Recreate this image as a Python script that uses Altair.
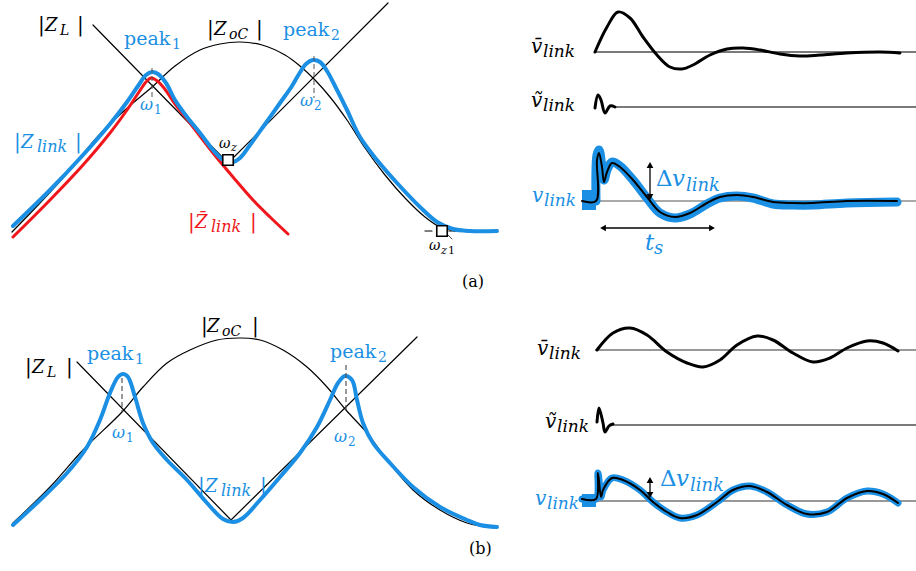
import altair as alt
import pandas as pd

W, H = 916, 571
BLUE = "#1a8fe3"
RED = "#f0171c"
BLACK = "#000000"
GRAY = "#7a7a7a"
FONT = "DejaVu Serif"

# ---------------- panel (a), frequency domain ----------------
ASYM_A_X = [93, 228, 388]
ASYM_A_Y = [25, 163, 3]
ZOC_A_X = [12, 40, 70, 100, 125, 152, 175, 200, 220, 240, 262, 285, 300, 315, 330, 347, 365, 385, 405, 425, 440, 455]
ZOC_A_Y = [232, 203, 170, 134, 110, 87, 66, 50, 44, 42, 45, 55, 66, 80, 97, 120, 148, 175, 198, 217, 227, 231]
ZLINK_A_X = [13, 50, 83, 110, 127, 138, 146, 152, 158, 166, 175, 187, 200, 213, 223, 230, 240, 250, 263, 280, 292, 299, 306, 313, 320, 327, 336, 347, 360, 377, 397, 420, 437, 453, 470, 497]
ZLINK_A_Y = [226, 190, 155, 124, 102, 86, 75, 72, 74, 83, 100, 117, 133, 150, 160, 163, 158, 145, 127, 103, 86, 74, 64, 60, 62, 71, 88, 110, 137, 160, 183, 207, 222, 229, 231, 231]
ZBAR_A_X = [13, 50, 83, 110, 127, 139, 146, 151, 156, 164, 175, 193, 213, 233, 253, 270, 288]
ZBAR_A_Y = [237, 200, 165, 133, 110, 92, 82, 78, 80, 88, 104, 127, 153, 177, 200, 217, 234]
PEAKLINE_A_X = [152, 314]
PEAKLINE_A_Y1 = [68, 56]
PEAKLINE_A_Y2 = [100, 98]
WZ1_FLAT_X = [425, 497]
WZ1_FLAT_Y = [231, 231]
WZ1_DIAG_X = [418, 456]
WZ1_DIAG_Y = [205, 243]
BOX_X = [228, 442]
BOX_Y = [160, 231]

# ---------------- panel (b), frequency domain ----------------
ASYM_B_X = [77, 231, 417]
ASYM_B_Y = [362, 520, 337]
ZOC_B_X = [13, 50, 83, 122, 143, 167, 190, 217, 240, 260, 283, 307, 327, 346, 367, 387, 413, 440, 467, 495]
ZOC_B_Y = [523, 487, 450, 412, 387, 363, 350, 340, 338, 340, 350, 367, 387, 410, 433, 460, 490, 510, 523, 528]
ZLINK_B_X = [13, 40, 67, 87, 100, 110, 118, 123, 128, 135, 143, 153, 167, 187, 207, 223, 233, 243, 260, 280, 300, 317, 330, 338, 345, 352, 357, 363, 373, 390, 413, 440, 467, 480, 497]
ZLINK_B_Y = [525, 500, 473, 447, 420, 393, 377, 374, 377, 397, 423, 443, 460, 480, 503, 519, 522, 518, 500, 477, 453, 427, 400, 383, 376, 380, 400, 423, 443, 463, 487, 507, 520, 525, 527]
PEAKLINE_B_X = [122, 346]
PEAKLINE_B_Y1 = [378, 365]
PEAKLINE_B_Y2 = [412, 412]

# ---------------- time domain, (a) ----------------
VBAR_A_X = [595, 607, 618, 630, 643, 657, 670, 682, 693, 710, 727, 743, 760, 780, 800, 820, 847, 880, 900]
VBAR_A_Y = [52, 27, 12, 18, 37, 55, 67, 69, 65, 55, 49, 48, 50, 54, 56, 55, 53, 52, 53]
VTIL_A_X = [595, 598, 601, 605, 610, 615]
VTIL_A_Y = [108, 95, 100, 113, 106, 107]
VL_A_X = [582, 596, 597, 599, 602, 604, 607, 612, 620, 633, 647, 660, 675, 690, 707, 720, 737, 753, 773, 793, 813, 847, 897]
VL_A_Y = [201, 201, 160, 153, 167, 182, 172, 163, 167, 180, 197, 212, 217, 213, 203, 197, 195, 197, 202, 203, 203, 201, 201]
VLB_A_X = [596, 597, 599, 602, 604, 607, 612, 620, 633, 647, 660, 675, 690, 707, 720, 737, 753, 773, 793, 813, 847, 897]
VLB_A_Y = [201, 155, 150, 167, 180, 170, 162, 166, 180, 198, 213, 218, 214, 204, 198, 196, 198, 204, 205, 205, 203, 202]

# ---------------- time domain, (b) ----------------
VBAR_B_X = [597, 613, 630, 647, 667, 687, 703, 720, 737, 757, 773, 793, 813, 830, 847, 867, 883, 898]
VBAR_B_Y = [350, 333, 328, 335, 352, 363, 367, 360, 345, 336, 340, 353, 362, 358, 348, 341, 343, 351]
VTIL_B_X = [597, 599, 603, 605, 609, 613]
VTIL_B_Y = [422, 408, 423, 432, 426, 424]
VL_B_X = [582, 596, 598, 601, 603, 612, 623, 640, 653, 667, 680, 697, 717, 733, 750, 767, 787, 807, 827, 847, 867, 883, 898]
VL_B_Y = [499, 499, 473, 497, 490, 478, 480, 490, 502, 512, 518, 515, 502, 490, 486, 492, 505, 514, 512, 498, 491, 494, 503]

# baselines: x start, x end, y, colour, width
BASE_X1 = [595, 615, 582, 595, 613, 582]
BASE_X2 = [916, 916, 916, 916, 916, 916]
BASE_Y = [52, 107, 201, 350, 425, 501]
BASE_C = [GRAY, GRAY, "#555555", "#333333", GRAY, "#333333"]
BASE_W = [1.8, 1.8, 1.2, 1.2, 1.8, 1.2]

RECT_X1 = [582, 582]
RECT_X2 = [596, 596]
RECT_Y1 = [190, 494]
RECT_Y2 = [210, 507]

# arrows: vertical (x, y_top, y_bottom) and horizontal (y, x_left, x_right)
VARROW_X = [650, 650]
VARROW_Y1 = [162, 477]
VARROW_Y2 = [200, 498]
HARROW_Y = [228]
HARROW_X1 = [600]
HARROW_X2 = [715]

# labels: text, x, y, size, colour
LAB_ROMAN = [
    ("|", 38, 31, 20, BLACK), ("|", 77, 31, 20, BLACK),
    ("peak", 124, 45, 19, BLUE), ("1", 172, 49, 14, BLUE),
    ("|", 207, 35, 20, BLACK), ("|", 256, 35, 20, BLACK),
    ("peak", 283, 36, 19, BLUE), ("2", 331, 40, 14, BLUE),
    ("1", 154, 114, 12, BLUE), ("2", 314, 110, 12, BLUE),
    ("1", 448, 254, 11, BLACK),
    ("|", 14, 148, 20, BLUE), ("|", 75, 148, 20, BLUE),
    ("|", 188, 228, 20, RED), ("|", 250, 228, 20, RED),
    ("(a)", 462, 287, 16, BLACK),
    ("|", 25, 373, 20, BLACK), ("|", 66, 373, 20, BLACK),
    ("peak", 87, 360, 19, BLUE), ("1", 135, 364, 14, BLUE),
    ("|", 201, 332, 20, BLACK), ("|", 252, 332, 20, BLACK),
    ("peak", 330, 358, 19, BLUE), ("2", 378, 362, 14, BLUE),
    ("1", 126, 442, 12, BLUE), ("2", 348, 446, 12, BLUE),
    ("|", 198, 492, 20, BLUE), ("|", 260, 492, 20, BLUE),
    ("(b)", 469, 554, 16, BLACK),
    ("Δ", 656, 186, 23, BLUE), ("Δ", 660, 486, 23, BLUE),
]
LAB_ITALIC = [
    ("Z", 45, 31, 18, BLACK), ("L", 60, 35, 14, BLACK),
    ("Z", 214, 35, 18, BLACK), ("oC", 229, 39, 14, BLACK),
    ("ω", 140, 110, 16, BLUE), ("ω", 300, 106, 16, BLUE),
    ("ω", 219, 148, 14, BLACK), ("z", 231, 151, 11, BLACK),
    ("ω", 429, 250, 14, BLACK), ("z", 441, 254, 11, BLACK),
    ("Z", 21, 148, 18, BLUE), ("link", 37, 152, 16, BLUE),
    ("Z\u0304", 195, 228, 18, RED), ("link", 211, 232, 16, RED),
    ("Z", 32, 373, 18, BLACK), ("L", 47, 377, 14, BLACK),
    ("Z", 207, 332, 18, BLACK), ("oC", 222, 336, 14, BLACK),
    ("ω", 112, 438, 16, BLUE), ("ω", 334, 442, 16, BLUE),
    ("Z", 205, 492, 18, BLUE), ("link", 221, 496, 16, BLUE),
    ("v\u0304", 531, 53, 20, BLACK), ("link", 543, 57, 17, BLACK),
    ("ṽ", 531, 107, 20, BLACK), ("link", 543, 111, 17, BLACK),
    ("v", 532, 202, 20, BLUE), ("link", 544, 206, 17, BLUE),
    ("v", 672, 186, 23, BLUE), ("link", 686, 191, 18, BLUE),
    ("t", 645, 250, 23, BLUE), ("s", 654, 254, 18, BLUE),
    ("v\u0304", 537, 355, 20, BLACK), ("link", 549, 359, 17, BLACK),
    ("ṽ", 545, 428, 20, BLACK), ("link", 557, 432, 17, BLACK),
    ("v", 535, 505, 20, BLUE), ("link", 547, 509, 17, BLUE),
    ("v", 676, 486, 23, BLUE), ("link", 690, 491, 18, BLUE),
]

XS = alt.Scale(domain=[0, W], nice=False, zero=False)
YS = alt.Scale(domain=[0, H], nice=False, zero=False, reverse=True)


def ex(f="x"):
    return alt.X(f"{f}:Q", scale=XS, axis=None)


def ey(f="y"):
    return alt.Y(f"{f}:Q", scale=YS, axis=None)


def curve(xs, ys, color, width, interp="catmull-rom", dash=None):
    df = pd.DataFrame({"x": xs, "y": ys, "i": list(range(len(xs)))})
    props = dict(color=color, strokeWidth=width, interpolate=interp,
                 strokeCap="round", strokeJoin="round")
    if dash is not None:
        props["strokeDash"] = dash
    return alt.Chart(df).mark_line(**props).encode(x=ex(), y=ey(), order="i:Q")


def vrules(xs, y1, y2, color, width, dash=None):
    df = pd.DataFrame({"x": xs, "y": y1, "y2": y2})
    props = dict(color=color, strokeWidth=width)
    if dash is not None:
        props["strokeDash"] = dash
    return alt.Chart(df).mark_rule(**props).encode(x=ex(), y=ey(), y2="y2:Q")


def texts(rows, italic):
    df = pd.DataFrame(rows, columns=["t", "x", "y", "s", "c"])
    return alt.Chart(df).mark_text(
        align="left", baseline="alphabetic", font=FONT,
        fontStyle="italic" if italic else "normal",
    ).encode(x=ex(), y=ey(), text="t:N",
             size=alt.Size("s:Q", scale=None),
             color=alt.Color("c:N", scale=None))


layers = []
# panel (a)
layers.append(curve(ASYM_A_X, ASYM_A_Y, BLACK, 1.2, "linear"))
layers.append(curve(ZOC_A_X, ZOC_A_Y, BLACK, 1.2))
layers.append(curve(WZ1_FLAT_X, WZ1_FLAT_Y, BLACK, 1.2, "linear", [7, 5]))
layers.append(curve(WZ1_DIAG_X, WZ1_DIAG_Y, "#444444", 1.0, "linear", [6, 8]))
layers.append(curve(ZBAR_A_X, ZBAR_A_Y, RED, 3))
layers.append(curve(ZLINK_A_X, ZLINK_A_Y, BLUE, 4))
layers.append(vrules(PEAKLINE_A_X, PEAKLINE_A_Y1, PEAKLINE_A_Y2, "#555555", 1.0, [5, 3]))
layers.append(
    alt.Chart(pd.DataFrame({"x": BOX_X, "y": BOX_Y}))
    .mark_square(size=110, filled=True, color="white", stroke="black", strokeWidth=1.6, opacity=1)
    .encode(x=ex(), y=ey())
)
# panel (b)
layers.append(curve(ASYM_B_X, ASYM_B_Y, BLACK, 1.2, "linear"))
layers.append(curve(ZOC_B_X, ZOC_B_Y, BLACK, 1.2))
layers.append(curve(ZLINK_B_X, ZLINK_B_Y, BLUE, 4))
layers.append(vrules(PEAKLINE_B_X, PEAKLINE_B_Y1, PEAKLINE_B_Y2, "#555555", 1.2, [5, 3]))

# baselines
base_df = pd.DataFrame({"x": BASE_X1, "x2": BASE_X2, "y": BASE_Y, "c": BASE_C, "w": BASE_W})
layers.append(
    alt.Chart(base_df).mark_rule().encode(
        x=ex(), x2="x2:Q", y=ey(),
        color=alt.Color("c:N", scale=None),
        strokeWidth=alt.StrokeWidth("w:Q", scale=None),
    )
)
# time-domain curves
layers.append(curve(VBAR_A_X, VBAR_A_Y, BLACK, 3))
layers.append(curve(VTIL_A_X, VTIL_A_Y, BLACK, 3))
layers.append(
    alt.Chart(pd.DataFrame({"x": RECT_X1, "x2": RECT_X2, "y": RECT_Y1, "y2": RECT_Y2}))
    .mark_rect(color=BLUE).encode(x=ex(), x2="x2:Q", y=ey(), y2="y2:Q")
)
layers.append(curve(VLB_A_X, VLB_A_Y, BLUE, 9))
layers.append(curve(VL_A_X, VL_A_Y, BLACK, 2))
layers.append(curve(VBAR_B_X, VBAR_B_Y, BLACK, 3))
layers.append(curve(VTIL_B_X, VTIL_B_Y, BLACK, 3))
layers.append(curve(VL_B_X, VL_B_Y, BLUE, 7))
layers.append(curve(VL_B_X, VL_B_Y, BLACK, 2))

# arrows
layers.append(vrules(VARROW_X, [y + 4 for y in VARROW_Y1], [y - 4 for y in VARROW_Y2], BLACK, 1.3))
layers.append(
    alt.Chart(pd.DataFrame({"x": VARROW_X, "y": [y + 3 for y in VARROW_Y1]}))
    .mark_point(shape="triangle-up", filled=True, size=45, color=BLACK, opacity=1)
    .encode(x=ex(), y=ey())
)
layers.append(
    alt.Chart(pd.DataFrame({"x": VARROW_X, "y": [y - 3 for y in VARROW_Y2]}))
    .mark_point(shape="triangle-down", filled=True, size=45, color=BLACK, opacity=1)
    .encode(x=ex(), y=ey())
)
harr = pd.DataFrame({"x": [x + 4 for x in HARROW_X1], "x2": [x - 4 for x in HARROW_X2], "y": HARROW_Y})
layers.append(alt.Chart(harr).mark_rule(color=BLACK, strokeWidth=1.3).encode(x=ex(), x2="x2:Q", y=ey()))
layers.append(
    alt.Chart(pd.DataFrame({"x": [x + 3 for x in HARROW_X1], "y": HARROW_Y}))
    .mark_point(shape="triangle-left", filled=True, size=45, color=BLACK, opacity=1)
    .encode(x=ex(), y=ey())
)
layers.append(
    alt.Chart(pd.DataFrame({"x": [x - 3 for x in HARROW_X2], "y": HARROW_Y}))
    .mark_point(shape="triangle-right", filled=True, size=45, color=BLACK, opacity=1)
    .encode(x=ex(), y=ey())
)

layers.append(texts(LAB_ROMAN, False))
layers.append(texts(LAB_ITALIC, True))

chart = (
    alt.layer(*layers)
    .properties(width=W, height=H, padding=0, autosize=alt.AutoSizeParams(type="none"),
                background="white")
    .configure_view(stroke=None)
)
chart.save("out.html", embed_options={"renderer": "svg", "actions": False})
